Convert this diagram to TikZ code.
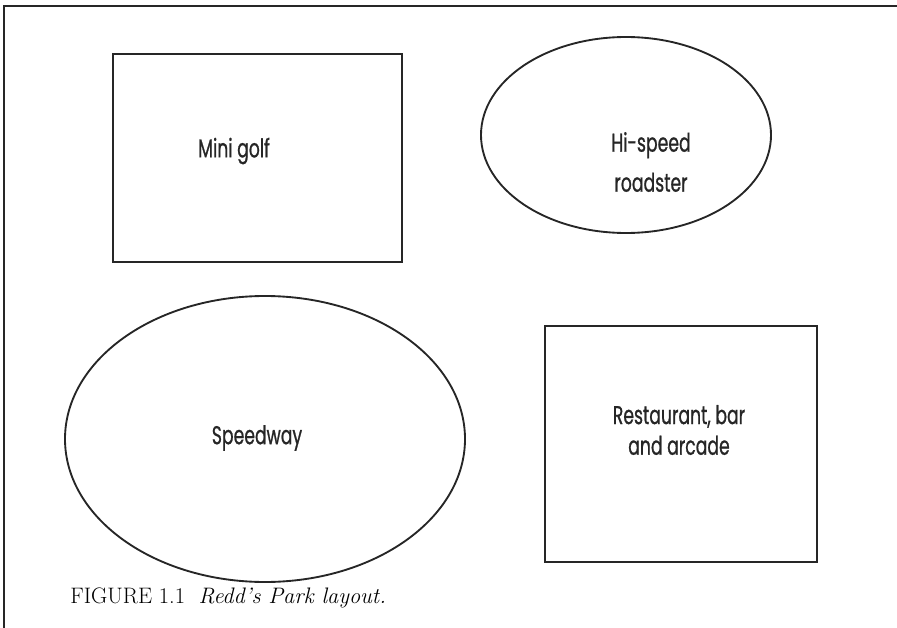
\documentclass[tikz,border=0pt]{standalone}
\usepackage{fontspec}
\usetikzlibrary{shapes.geometric}
\newfontfamily\labelfont[FakeStretch=0.67,FakeBold=0.8]{Poppins}

\begin{document}
\begin{tikzpicture}
        [x=0.75pt, y=-0.75pt,
        area/.style={draw, line width=1.4pt, black!85, inner sep=0pt, outer sep=0pt},
        box/.style={area, rectangle},
        oval/.style={area, ellipse},
        label/.style={font=\labelfont\fontsize{19.3}{30}\selectfont, align=center, text=black!85},
        frame/.style={line width=1.1pt, black!85}]

        \useasboundingbox (0,0) rectangle (897,628);

        % page frame (top and left only)
        \draw[frame] (897,6) -- (4,6) -- (4,628);

        % park areas
        \node[box, minimum width=216.75pt, minimum height=156pt] (golf) at (257.5,158) {};
        \node[oval, minimum width=217.5pt, minimum height=147pt] (roadster) at (626,135) {};
        \node[oval, minimum width=300pt, minimum height=214.5pt] (speedway) at (265,439) {};
        \node[box, minimum width=204pt, minimum height=177pt] (restaurant) at (681,444) {};

        % area names
        \node[label] (golftext) at (234,151) {Mini golf};
        \node[label] (roadstertext) at (651,162) {Hi-speed\\roadster};
        \node[label] (speedwaytext) at (257,438) {Speedway};
        \node[label, font=\labelfont\fontsize{19.3}{23}\selectfont] (restauranttext) at (679,430) {Restaurant, bar\\and arcade};

        % caption
        \node[anchor=base west, inner sep=0pt, font=\fontsize{16.8}{20}\selectfont] (caption) at (70,603)
            {FIGURE 1.1\ \ \textit{Redd’s Park layout.}};

    \end{tikzpicture}
\end{document}
